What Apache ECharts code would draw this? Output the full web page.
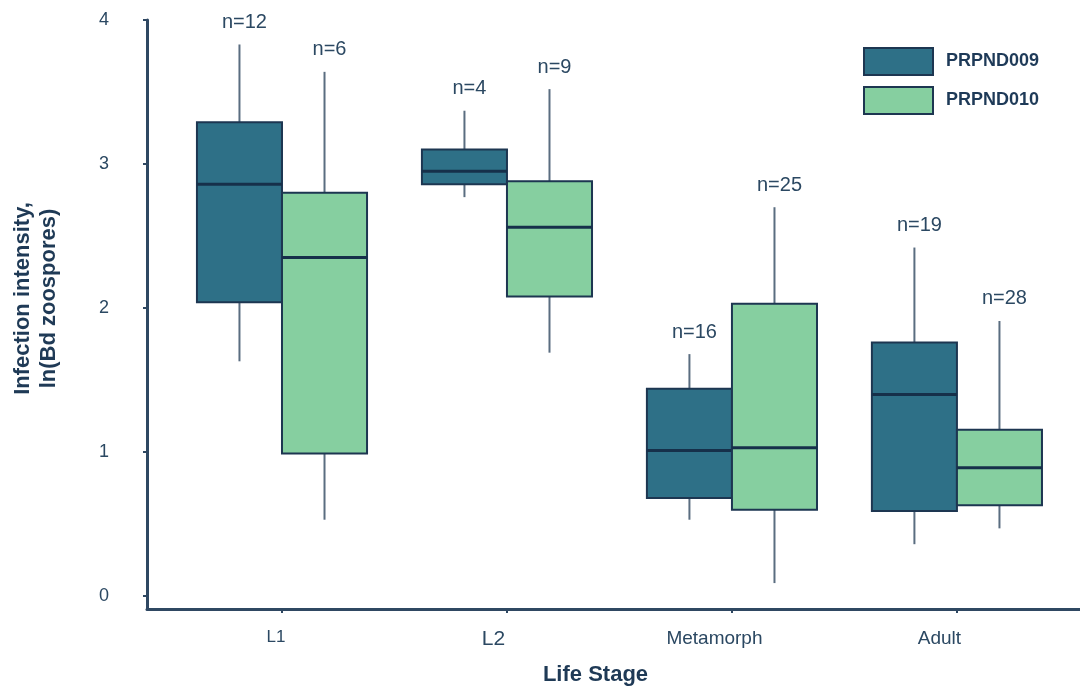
<!DOCTYPE html>
<html>
<head>
<meta charset="utf-8">
<title>Infection intensity by life stage</title>
<script src="https://cdn.jsdelivr.net/npm/echarts@6/dist/echarts.min.js"></script>
<style>
  html, body { margin: 0; padding: 0; background: #ffffff; }
  #chart { width: 1080px; height: 687px; }
</style>
</head>
<body>
<div id="chart"></div>
<script>
// Life stages along the x axis
const categories = ['L1', 'L2', 'Metamorph', 'Adult'];
const seriesNames = ['PRPND009', 'PRPND010'];
const yTicks = [0, 1, 2, 3, 4];

// Five-number summaries per stage: [min, Q1, median, Q3, max] of ln(Bd zoospores)
const prpnd009 = [
  [1.63, 2.04, 2.86, 3.29, 3.83],
  [2.77, 2.86, 2.95, 3.10, 3.37],
  [0.53, 0.68, 1.01, 1.44, 1.68],
  [0.36, 0.59, 1.40, 1.76, 2.42]
];
const prpnd010 = [
  [0.53, 0.99, 2.35, 2.80, 3.64],
  [1.69, 2.08, 2.56, 2.88, 3.52],
  [0.09, 0.60, 1.03, 2.03, 2.70],
  [0.47, 0.63, 0.89, 1.155, 1.91]
];
// Sample sizes
const n009 = [12, 4, 16, 19];
const n010 = [6, 9, 25, 28];

const INK = '#2b4862';
const BORDER = '#1d3651';
const WHISKER = '#5a6d80';
const COLORS = ['#2e7087', '#86cfa0'];
const FONT = '"Liberation Sans", Arial, Helvetica, sans-serif';

function toRows(stats, ns) {
  return categories.map((c, i) => [i].concat(stats[i], [ns[i]]));
}

// Draws one box: side -1 puts it left of the stage centre, +1 to the right
function makeRenderer(side, fill) {
  return function (params, api) {
    const x = api.value(0);
    const w = api.size([0.378, 0])[0];
    const c = api.coord([x, 0])[0];
    const left = side < 0 ? c - w : c;
    const mid = left + w / 2;
    const yMin = api.coord([x, api.value(1)])[1];
    const yQ1 = api.coord([x, api.value(2)])[1];
    const yMed = api.coord([x, api.value(3)])[1];
    const yQ3 = api.coord([x, api.value(4)])[1];
    const yMax = api.coord([x, api.value(5)])[1];
    const n = api.value(6);
    const wStyle = { stroke: WHISKER, lineWidth: 2 };
    return {
      type: 'group',
      children: [
        { type: 'line', shape: { x1: mid, y1: yMax, x2: mid, y2: yQ3 }, style: wStyle },
        { type: 'line', shape: { x1: mid, y1: yQ1, x2: mid, y2: yMin }, style: wStyle },
        { type: 'rect', shape: { x: left, y: yQ3, width: w, height: yQ1 - yQ3 },
          style: { fill: fill, stroke: BORDER, lineWidth: 2 } },
        { type: 'line', shape: { x1: left, y1: yMed, x2: left + w, y2: yMed },
          style: { stroke: '#16304a', lineWidth: 3 } },
        { type: 'text', x: mid + 5, y: yMax - 22,
          style: { text: 'n=' + n, fill: INK, font: '20px ' + FONT,
                   align: 'center', verticalAlign: 'middle' } }
      ]
    };
  };
}

const labelRich = {
  s0: { fontSize: 17, color: INK, fontFamily: FONT, padding: [0, 12, 0, 0] },
  s1: { fontSize: 21, color: INK, fontFamily: FONT, padding: [0, 27, 0, 0] },
  s2: { fontSize: 19, color: INK, fontFamily: FONT, padding: [0, 35, 0, 0] },
  s3: { fontSize: 19, color: INK, fontFamily: FONT, padding: [0, 35, 0, 0] }
};

const chart = echarts.init(document.getElementById('chart'), null, { renderer: 'canvas' });
chart.setOption({
  animation: false,
  backgroundColor: '#ffffff',
  textStyle: { fontFamily: FONT },
  grid: { left: 147, right: 0, top: 20, bottom: 78, containLabel: false, outerBoundsMode: 'none' },
  legend: {
    orient: 'vertical',
    left: 863,
    top: 47,
    padding: 0,
    itemWidth: 69,
    itemHeight: 27,
    itemGap: 10,
    textStyle: { fontSize: 18, fontWeight: 'bold', color: '#1e3a58', fontFamily: FONT, padding: [0, 0, 0, 8] },
    data: seriesNames.map((name, i) => ({
      name: name,
      icon: 'rect',
      itemStyle: { color: COLORS[i], borderColor: BORDER, borderWidth: 2 }
    }))
  },
  xAxis: {
    type: 'value',
    min: -0.6,
    max: 3.547,
    name: 'Life Stage',
    nameLocation: 'middle',
    nameGap: 55,
    nameTextStyle: { fontSize: 22, fontWeight: 'bold', color: '#1f3a56', padding: [0, 36, 0, 0] },
    splitLine: { show: false },
    axisLine: { show: true, onZero: false, lineStyle: { color: '#2f4862', width: 3 } },
    axisTick: { show: true, length: 4, customValues: [0, 1, 2, 3], lineStyle: { color: '#2f4862', width: 2 } },
    axisLabel: {
      customValues: [0, 1, 2, 3],
      margin: 20,
      formatter: function (v) { const i = Math.round(v); return '{s' + i + '|' + categories[i] + '}'; },
      rich: labelRich
    }
  },
  yAxis: {
    type: 'value',
    min: -0.09,
    max: 4,
    name: 'Infection intensity,\nln(Bd zoospores)',
    nameLocation: 'middle',
    nameRotate: 90,
    nameGap: 85,
    nameTextStyle: { fontSize: 22, fontWeight: 'bold', color: '#1f3a56', lineHeight: 26, padding: [0, 0, 0, 32] },
    splitLine: { show: false },
    axisLine: { show: true, onZero: false, lineStyle: { color: '#2f4862', width: 3 } },
    axisTick: { show: true, length: 4, customValues: yTicks, lineStyle: { color: '#2f4862', width: 2 } },
    axisLabel: { customValues: yTicks, fontSize: 18, color: INK, margin: 38, padding: [3, 0, 0, 0] }
  },
  series: [
    {
      name: seriesNames[0],
      type: 'custom',
      itemStyle: { color: COLORS[0], borderColor: BORDER },
      encode: { x: 0, y: [1, 2, 3, 4, 5] },
      renderItem: makeRenderer(-1, COLORS[0]),
      data: toRows(prpnd009, n009)
    },
    {
      name: seriesNames[1],
      type: 'custom',
      itemStyle: { color: COLORS[1], borderColor: BORDER },
      encode: { x: 0, y: [1, 2, 3, 4, 5] },
      renderItem: makeRenderer(1, COLORS[1]),
      data: toRows(prpnd010, n010)
    }
  ]
});
</script>
</body>
</html>
